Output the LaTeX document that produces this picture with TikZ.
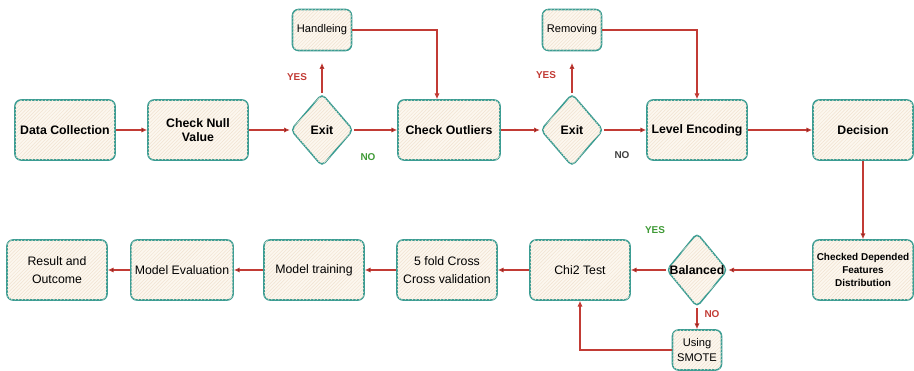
\documentclass[tikz,border=0pt]{standalone}
\usepackage{fontspec}
\setmainfont{Liberation Sans}
\usepackage{tikz}
\usetikzlibrary{shapes.geometric,arrows.meta,patterns}

\definecolor{boxline}{HTML}{3A9C92}
\definecolor{boxfill}{HTML}{FCF7EF}
\definecolor{hatch}{HTML}{F0E2D0}
\definecolor{flow}{HTML}{C23B35}
\definecolor{okgreen}{HTML}{3F9A36}

\tikzset{
  stepbox/.style={draw=boxline,line width=1.3pt,rounded corners=5pt,fill=boxfill,
    postaction={pattern=north east lines,pattern color=hatch},
    minimum width=3cm,minimum height=1.8cm,align=center,
    font=\fontsize{10.5}{12.5}\selectfont\bfseries},
  handbox/.style={stepbox,font=\fontsize{10.5}{15}\selectfont},
  smallbox/.style={stepbox,minimum width=1.77cm,minimum height=1.23cm,inner sep=2pt,
    font=\fontsize{9.5}{12}\selectfont},
  choice/.style={diamond,draw=boxline,line width=1.3pt,rounded corners=4pt,fill=boxfill,
    postaction={pattern=north east lines,pattern color=hatch},
    minimum width=1.88cm,minimum height=2.18cm,inner sep=0pt,
    font=\fontsize{10.5}{12.5}\selectfont\bfseries},
  answer/.style={font=\fontsize{8.5}{10}\selectfont\bfseries}
}

\begin{document}
\begin{tikzpicture}[x=0.03cm,y=-0.03cm,>={Latex[length=5pt,width=4.5pt]}]
  \useasboundingbox (0,0) rectangle (914,371);
  % top row
  \node(dc)[stepbox] at (65,130) {Data Collection};
  \node(cn)[stepbox] at (198,130) {Check Null\\Value};
  \node(ex1)[choice] at (322,130) {Exit};
  \node(hand)[smallbox] at (322,30) {Handleing};
  \node(co)[stepbox,minimum width=3.06cm] at (449,130) {Check Outliers};
  \node(ex2)[choice] at (572,130) {Exit};
  \node(rem)[smallbox] at (572,30) {Removing};
  \node(le)[stepbox] at (697,130) {Level Encoding};
  \node(dec)[stepbox] at (863,130) {Decision};
  % bottom row
  \node(cdf)[stepbox,font=\fontsize{8.5}{11}\selectfont\bfseries] at (863,270) {Checked Depended\\Features\\Distribution};
  \node(bal)[choice,minimum width=1.83cm,minimum height=2.22cm,label=center:{\fontsize{10.5}{12.5}\selectfont\bfseries Balanced}] at (697,270) {};
  \node(smote)[smallbox,minimum width=1.47cm,minimum height=1.2cm] at (697,350) {Using\\SMOTE};
  \node(chi)[handbox] at (580,270) {Chi2 Test};
  \node(cv)[handbox] at (447,270) {5 fold Cross\\Cross validation};
  \node(mt)[handbox] at (314,270) {Model training};
  \node(me)[handbox] at (182,270) {Model Evaluation};
  \node(res)[handbox] at (57,270) {Result and\\Outcome};
  % answers
  \node(yes1)[answer,text=flow] at (297,77) {YES};
  \node(no1)[answer,text=okgreen] at (368,157) {NO};
  \node(yes2)[answer,text=flow] at (546,75) {YES};
  \node(no2)[answer,text=black!75] at (622,155) {NO};
  \node(yes3)[answer,text=okgreen] at (655,230) {YES};
  \node(no3)[answer,text=flow] at (712,314) {NO};

  \path[->,draw=flow,line width=0.9pt]
          (dc) edge (cn)
          (cn) edge (ex1)
          (ex1) edge (co)
          (ex1) edge[shorten >=3.5mm] (hand)
          (co) edge (ex2)
          (ex2) edge (le)
          (ex2) edge[shorten >=3.5mm] (rem)
          (le) edge (dec)
          (dec) edge (cdf)
          (cdf) edge (bal)
          (bal) edge (chi)
          (bal) edge (smote)
          (chi) edge (cv)
          (cv) edge (mt)
          (mt) edge (me)
          (me) edge (res);
  \draw[->,flow,line width=0.9pt] (hand.east) -| ([xshift=-0.36cm]co.north);
  \draw[->,flow,line width=0.9pt] (rem.east) -| (le.north);
  \draw[->,flow,line width=0.9pt] (smote.west) -| (chi.south);
\end{tikzpicture}
\end{document}
